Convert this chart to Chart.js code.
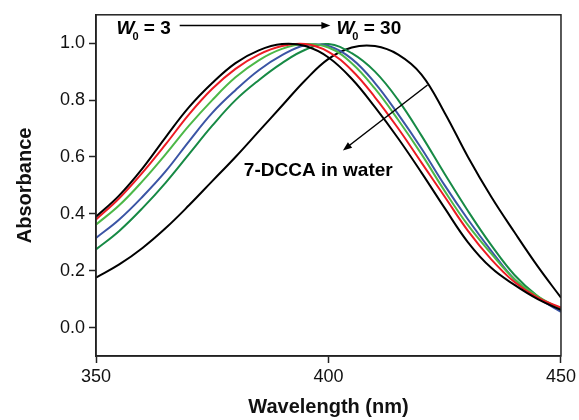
<!DOCTYPE html>
<html>

<head>
  <meta charset="UTF-8">
  <title>Absorbance vs wavelength</title>
  <script src="https://cdn.jsdelivr.net/npm/chart.js@4.4.1/dist/chart.umd.min.js"></script>
  <style>
    body { margin: 0; background: #fff; }
    canvas { display: block; }
  </style>
</head>

<body>
  <canvas id="myChart" width="579" height="420"></canvas>
  <script>
    // wavelength grid (nm) and absorbance
    const wavelengths = [350, 355, 360, 365, 370, 375, 380, 385, 390, 395, 400,
      405, 410, 415, 420, 425, 430, 435, 440, 445, 450];
    const w3 = [0.39, 0.465, 0.56, 0.67, 0.775, 0.86, 0.93, 0.975, 0.997, 0.99, 0.95,
      0.875, 0.775, 0.665, 0.545, 0.42, 0.30, 0.21, 0.15, 0.10, 0.062];
    const wRed = [0.38, 0.455, 0.545, 0.645, 0.75, 0.84, 0.91, 0.96, 0.99, 0.997, 0.97,
      0.905, 0.81, 0.70, 0.58, 0.46, 0.34, 0.24, 0.16, 0.105, 0.07];
    const wLightGreen = [0.362, 0.43, 0.515, 0.61, 0.71, 0.80, 0.88, 0.94, 0.98, 0.997, 0.985,
      0.93, 0.84, 0.73, 0.61, 0.48, 0.36, 0.26, 0.17, 0.11, 0.065];
    const wBlue = [0.315, 0.38, 0.46, 0.55, 0.655, 0.755, 0.835, 0.905, 0.958, 0.993, 0.99,
      0.945, 0.86, 0.75, 0.63, 0.50, 0.38, 0.27, 0.17, 0.105, 0.055];
    const w30 = [0.275, 0.34, 0.42, 0.51, 0.61, 0.71, 0.80, 0.87, 0.93, 0.977, 0.997,
      0.965, 0.90, 0.80, 0.675, 0.54, 0.41, 0.29, 0.185, 0.11, 0.058];
    const water = [0.176, 0.222, 0.28, 0.35, 0.43, 0.515, 0.60, 0.69, 0.78, 0.87, 0.945,
      0.985, 0.99, 0.96, 0.89, 0.755, 0.60, 0.46, 0.335, 0.215, 0.105];

    const seriesNames = ['W0 = 3', 'W0 (2)', 'W0 (3)', 'W0 (4)', 'W0 = 30', '7-DCCA in water'];
    const seriesColors = ['#000000', '#ed1c24', '#4db848', '#3b55a5', '#178a45', '#000000'];
    const xTicks = [350, 400, 450];
    const yTicks = [0.0, 0.2, 0.4, 0.6, 0.8, 1.0];

    const fontFamily = '"Liberation Sans", Arial, Helvetica, sans-serif';
    Chart.defaults.font.family = fontFamily;
    Chart.defaults.color = '#111';

    function points(series) {
      return wavelengths.map(function (x, i) { return { x: x, y: series[i] }; });
    }

    const allSeries = [w3, wRed, wLightGreen, wBlue, w30, water];
    const datasets = allSeries.map(function (s, i) {
      return {
        label: seriesNames[i],
        data: points(s),
        borderColor: seriesColors[i],
        backgroundColor: 'transparent',
        borderWidth: 2,
        pointRadius: 0,
        tension: 0.4,
        fill: false
      };
    });

    function arrow(ctx, x1, y1, x2, y2) {
      const ang = Math.atan2(y2 - y1, x2 - x1);
      const len = 9, half = 3.5;
      ctx.beginPath();
      ctx.moveTo(x1, y1);
      ctx.lineTo(x2 - Math.cos(ang) * len * 0.8, y2 - Math.sin(ang) * len * 0.8);
      ctx.stroke();
      ctx.beginPath();
      ctx.moveTo(x2, y2);
      ctx.lineTo(x2 - Math.cos(ang) * len - Math.sin(ang) * half, y2 - Math.sin(ang) * len + Math.cos(ang) * half);
      ctx.lineTo(x2 - Math.cos(ang) * len + Math.sin(ang) * half, y2 - Math.sin(ang) * len - Math.cos(ang) * half);
      ctx.closePath();
      ctx.fill();
    }

    function drawW0(ctx, px, py, tail) {
      ctx.textAlign = 'left';
      ctx.textBaseline = 'alphabetic';
      ctx.font = 'italic bold 19px ' + fontFamily;
      ctx.fillText('W', px, py);
      const w = ctx.measureText('W').width;
      ctx.font = 'bold 11px ' + fontFamily;
      ctx.fillText('0', px + w - 2, py + 6);
      const w2 = ctx.measureText('0').width;
      ctx.font = 'bold 19px ' + fontFamily;
      ctx.fillText(' = ' + tail, px + w - 2 + w2, py);
    }

    // frame around the plot area plus the annotations
    const framePlugin = {
      id: 'frame',
      afterDraw: function (chart) {
        const ctx = chart.ctx;
        const a = chart.chartArea;
        const x = chart.scales.x, y = chart.scales.y;
        ctx.save();
        ctx.strokeStyle = '#222';
        ctx.lineWidth = 1.5;
        ctx.strokeRect(a.left, a.top, a.right - a.left, a.bottom - a.top);

        ctx.fillStyle = '#000';
        ctx.strokeStyle = '#000';
        ctx.lineWidth = 1.5;
        drawW0(ctx, x.getPixelForValue(354.4), y.getPixelForValue(1.032), '3');
        drawW0(ctx, x.getPixelForValue(401.7), y.getPixelForValue(1.032), '30');
        arrow(ctx, x.getPixelForValue(368), y.getPixelForValue(1.062),
          x.getPixelForValue(400.4), y.getPixelForValue(1.062));

        ctx.font = 'bold 19px ' + fontFamily;
        ctx.textAlign = 'center';
        ctx.textBaseline = 'middle';
        ctx.fillText('7-DCCA in water', x.getPixelForValue(397.8), y.getPixelForValue(0.55));
        arrow(ctx, x.getPixelForValue(421.3), y.getPixelForValue(0.853),
          x.getPixelForValue(403.1), y.getPixelForValue(0.623));
        ctx.restore();
      }
    };

    let ctx = document.getElementById('myChart').getContext('2d');
    let chart = new Chart(ctx, {
      type: 'line',
      data: { datasets: datasets },
      plugins: [framePlugin],
      options: {
        responsive: false,
        animation: false,
        devicePixelRatio: 1,
        layout: { padding: { top: 10, right: 17, left: 0, bottom: 0 } },
        plugins: {
          legend: { display: false },
          tooltip: { enabled: false }
        },
        scales: {
          x: {
            type: 'linear',
            min: 350,
            max: 450,
            afterBuildTicks: function (s) { s.ticks = xTicks.map(function (v) { return { value: v }; }); },
            afterFit: function (s) { s.height = 64; },
            ticks: { font: { size: 18 }, color: '#111', padding: 3, maxRotation: 0 },
            grid: { drawOnChartArea: false, tickLength: 7, tickColor: '#222', tickWidth: 1.5 },
            border: { color: '#222', width: 1.5 },
            title: {
              display: true, text: 'Wavelength (nm)', color: '#111',
              font: { size: 20, weight: 'bold' }, padding: { top: 0, bottom: 1 }
            }
          },
          y: {
            min: -0.1,
            max: 1.1,
            afterBuildTicks: function (s) { s.ticks = yTicks.map(function (v) { return { value: v }; }); },
            afterFit: function (s) { s.width = 96; },
            ticks: {
              font: { size: 18 }, color: '#111', padding: 4,
              callback: function (v) { return Number(v).toFixed(1); }
            },
            grid: { drawOnChartArea: false, tickLength: 7, tickColor: '#222', tickWidth: 1.5 },
            border: { color: '#222', width: 1.5 },
            title: {
              display: true, text: 'Absorbance', color: '#111',
              font: { size: 20, weight: 'bold' }, padding: { top: 13, bottom: 0 }
            }
          }
        }
      }
    });
  </script>
</body>

</html>
